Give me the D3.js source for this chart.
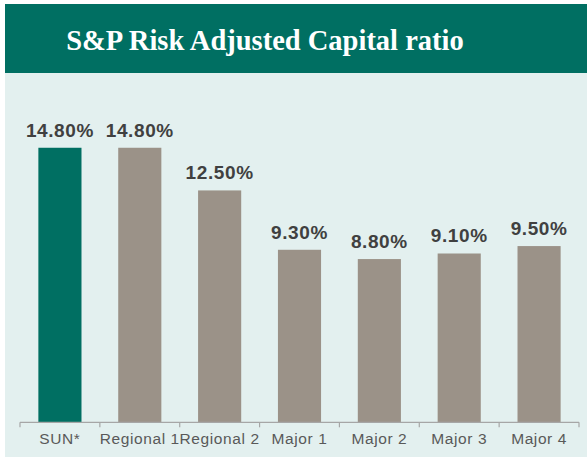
<!DOCTYPE html>
<html>
<head>
<meta charset="utf-8">
<script src="https://cdn.jsdelivr.net/npm/d3@7"></script>
<style>
  html, body { margin: 0; padding: 0; background: #fff; }
  svg { display: block; }
  .val { font-family: "Liberation Sans", Arial, sans-serif; font-weight: bold; fill: #404040; }
</style>
</head>
<body>
<svg id="chart" width="587" height="459"></svg>
<script>
// chart data
const categories = ['SUN*', 'Regional 1', 'Regional 2', 'Major 1', 'Major 2', 'Major 3', 'Major 4'];
const values     = [14.8, 14.8, 12.5, 9.3, 8.8, 9.1, 9.5];
const highlight  = ['SUN*'];
const title      = 'S&P Risk Adjusted Capital ratio';

const W = 587, H = 459;
const TEAL = '#006f62', GREY = '#9b9288', PANEL = '#e3f0ef';

const svg = d3.select('#chart');

// panel + banner
svg.append('rect').attr('x', 5).attr('y', 73).attr('width', W - 5).attr('height', 384).attr('fill', PANEL);
svg.append('rect').attr('x', 5).attr('y', 4).attr('width', W - 5).attr('height', 69).attr('fill', TEAL);
svg.append('text')
  .attr('x', 265).attr('y', 50).attr('text-anchor', 'middle')
  .attr('font-family', '"Liberation Serif", "Times New Roman", serif')
  .attr('font-weight', 'bold').attr('font-size', 28.5).attr('fill', '#fff')
  .text(title);

const x = d3.scaleBand().domain(categories).range([20, 579]).paddingInner(0.46).paddingOuter(0.23);
const y = d3.scaleLinear().domain([0, 16]).range([422.3, 125.5]);

// bars
const data = categories.map((c, i) => ({ c, v: values[i] }));
svg.append('g').selectAll('rect').data(data).join('rect')
  .attr('x', d => x(d.c)).attr('width', x.bandwidth())
  .attr('y', d => y(d.v)).attr('height', d => y(0) - y(d.v))
  .attr('fill', d => highlight.includes(d.c) ? TEAL : GREY);

// value labels
svg.append('g').selectAll('text').data(data).join('text')
  .attr('class', 'val')
  .attr('x', d => x(d.c) + x.bandwidth() / 2)
  .attr('y', d => y(d.v) - 11)
  .attr('text-anchor', 'middle')
  .attr('font-size', 19).attr('letter-spacing', 0.6)
  .text(d => d.v.toFixed(2) + '%');

// axis: ticks at band boundaries, like the office chart
const axisG = svg.append('g').attr('transform', `translate(0,${y(0)})`);
axisG.append('line').attr('x1', 20).attr('x2', 579).attr('stroke', '#a6a6a6').attr('stroke-width', 1.2);
const bound = i => 20 + i * (559 / categories.length);
axisG.selectAll('line.t').data(d3.range(categories.length + 1)).join('line')
  .attr('class', 't')
  .attr('x1', bound).attr('x2', bound)
  .attr('y1', 0).attr('y2', 5).attr('stroke', '#a6a6a6').attr('stroke-width', 1.2);
axisG.selectAll('text').data(categories).join('text')
  .attr('x', c => x(c) + x.bandwidth() / 2)
  .attr('y', 22)
  .attr('text-anchor', 'middle')
  .attr('font-family', '"Liberation Sans", Arial, sans-serif')
  .attr('font-size', 15.5).attr('letter-spacing', 0.6).attr('fill', '#595959')
  .text(c => c);
</script>
</body>
</html>
